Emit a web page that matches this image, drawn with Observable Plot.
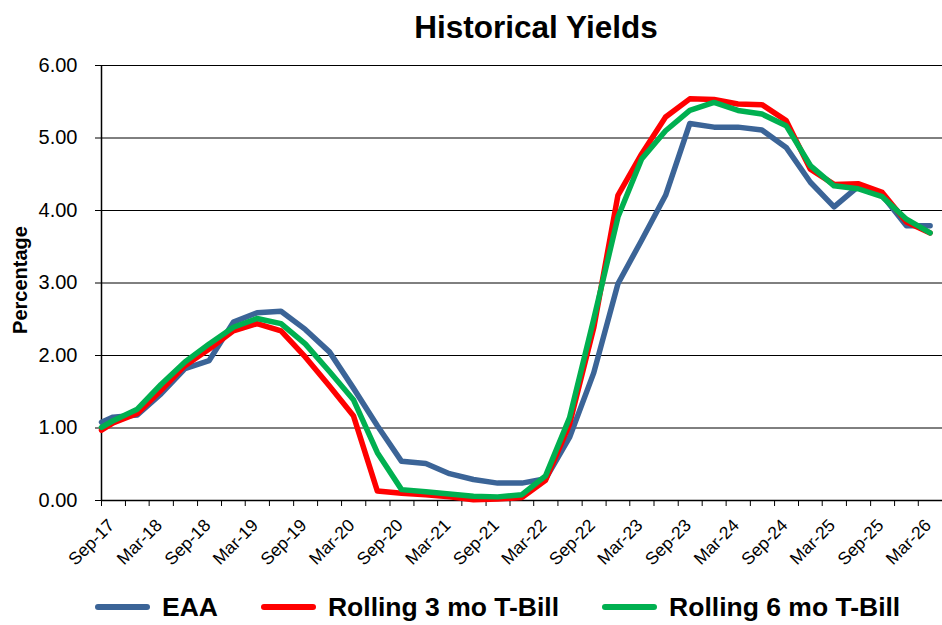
<!DOCTYPE html>
<html>
<head>
<meta charset="utf-8">
<script src="https://cdn.jsdelivr.net/npm/d3@7"></script>
<script src="https://cdn.jsdelivr.net/npm/@observablehq/plot@0.6"></script>
<style>
  html, body { margin: 0; padding: 0; background: #fff; }
  #wrap { position: relative; width: 942px; height: 625px; overflow: hidden; font-family: "Liberation Sans", Arial, sans-serif; color: #000; }
  #title { position: absolute; left: 130px; width: 812px; top: 12px; height: 31px; line-height: 31px; text-align: center; font-size: 31.5px; font-weight: bold; }
  #chart { position: absolute; left: 0; top: 50px; }
  #legend { position: absolute; left: 95px; top: 590px; height: 34px; display: flex; align-items: center; font-size: 26.5px; font-weight: bold; line-height: 34px; white-space: nowrap; }
  .item { display: flex; align-items: center; margin-right: 43px; }
  .sw { width: 55px; height: 6px; border-radius: 3px; margin-right: 12px; }
</style>
</head>
<body>
<div id="wrap">
  <div id="title">Historical Yields</div>
  <div id="chart"></div>
  <div id="legend"></div>
</div>
<script>
// ---- data ----
const tickLabels = ["Sep-17","Mar-18","Sep-18","Mar-19","Sep-19","Mar-20","Sep-20","Mar-21","Sep-21","Mar-22","Sep-22","Mar-23","Sep-23","Mar-24","Sep-24","Mar-25","Sep-25","Mar-26"];

const dates = ["2017-09-01","2017-10-15","2018-01-15","2018-04-15","2018-07-15","2018-10-15","2019-01-15","2019-04-15","2019-07-15","2019-10-15",
  "2020-01-15","2020-04-15","2020-07-15","2020-10-15","2021-01-15","2021-04-15","2021-07-15","2021-10-15","2022-01-15","2022-04-15",
  "2022-07-15","2022-10-15","2023-01-15","2023-04-15","2023-07-15","2023-10-15","2024-01-15","2024-04-15","2024-07-15","2024-10-15",
  "2025-01-15","2025-04-15","2025-07-15","2025-10-15","2026-01-15","2026-04-15"];

const eaa = [1.08, 1.15, 1.18, 1.47, 1.82, 1.93, 2.46, 2.59, 2.61, 2.36,
  2.05, 1.55, 1.03, 0.54, 0.51, 0.37, 0.29, 0.24, 0.24, 0.30,
  0.87, 1.76, 2.99, 3.59, 4.21, 5.20, 5.15, 5.15, 5.11, 4.87,
  4.39, 4.05, 4.33, 4.21, 3.79, 3.79];

const tbill3 = [0.97, 1.07, 1.20, 1.52, 1.86, 2.09, 2.34, 2.44, 2.34, 1.98,
  1.58, 1.17, 0.13, 0.10, 0.08, 0.05, 0.01, 0.02, 0.04, 0.28,
  1.05, 2.38, 4.21, 4.78, 5.29, 5.54, 5.53, 5.47, 5.46, 5.24,
  4.57, 4.36, 4.37, 4.25, 3.84, 3.69];

const tbill6 = [1.01, 1.10, 1.26, 1.60, 1.91, 2.16, 2.39, 2.51, 2.44, 2.16,
  1.78, 1.39, 0.66, 0.15, 0.12, 0.09, 0.06, 0.05, 0.08, 0.34,
  1.14, 2.50, 3.91, 4.71, 5.10, 5.38, 5.49, 5.38, 5.33, 5.17,
  4.62, 4.34, 4.30, 4.19, 3.88, 3.69];

const seriesNames = ["EAA", "Rolling 3 mo T-Bill", "Rolling 6 mo T-Bill"];
const seriesColors = ["#3b6497", "#ff0000", "#00b050"];
const yTicks = [0, 1, 2, 3, 4, 5, 6];

// ---- build ----
const parseLabel = d3.utcParse("%b-%y");
const labelData = tickLabels.map(l => ({label: l, date: parseLabel(l)}));
const xStart = new Date(Date.UTC(2017, 8, 1));
const xEnd = new Date(Date.UTC(2026, 5, 1));
const quarterTicks = d3.utcMonth.range(xStart, d3.utcDay.offset(xEnd, 1), 3);
const parsedDates = dates.map(d => new Date(d + "T00:00:00Z"));
const allSeries = [eaa, tbill3, tbill6];

const lineMarks = allSeries.map((vals, s) =>
  Plot.line(parsedDates.map((d, i) => [d, vals[i]]), {
    stroke: seriesColors[s], strokeWidth: 5.5, strokeLinejoin: "round", strokeLinecap: "round"
  })
);

const chart = Plot.plot({
  width: 942,
  height: 520,
  marginTop: 15,
  marginBottom: 70,
  marginLeft: 101,
  marginRight: 0,
  style: {fontFamily: "'Liberation Sans', Arial, sans-serif", background: "white", color: "black", overflow: "visible"},
  x: {type: "utc", domain: [xStart, xEnd]},
  y: {domain: [0, 6]},
  marks: [
    Plot.ruleY(yTicks.filter(d => d > 0), {stroke: "black", strokeWidth: 1}),
    Plot.axisY({ticks: yTicks, tickSize: 6, tickPadding: 18, tickFormat: d3.format(".2f"), fontSize: 20, label: null, strokeOpacity: 1}),
    Plot.axisX({ticks: quarterTicks, tickSize: 6, tickFormat: () => "", label: null, strokeOpacity: 1}),
    Plot.text(labelData, {x: "date", text: "label", frameAnchor: "bottom", rotate: -45, textAnchor: "end", lineAnchor: "middle", dx: 10, dy: 22, fontSize: 17.5}),
    Plot.ruleX([xStart], {stroke: "black", strokeWidth: 1.5}),
    Plot.ruleY([0], {stroke: "black", strokeWidth: 1.5}),
    ...lineMarks,
    Plot.text(["Percentage"], {frameAnchor: "left", dx: -81, dy: -3, rotate: -90, fontWeight: "bold", fontSize: 20, lineAnchor: "middle", textAnchor: "middle"})
  ]
});
document.getElementById("chart").appendChild(chart);

// legend
const legend = document.getElementById("legend");
seriesNames.forEach((name, i) => {
  const item = document.createElement("div");
  item.className = "item";
  const sw = document.createElement("span");
  sw.className = "sw";
  sw.style.background = seriesColors[i];
  const tx = document.createElement("span");
  tx.textContent = name;
  item.appendChild(sw);
  item.appendChild(tx);
  legend.appendChild(item);
});
</script>
</body>
</html>
